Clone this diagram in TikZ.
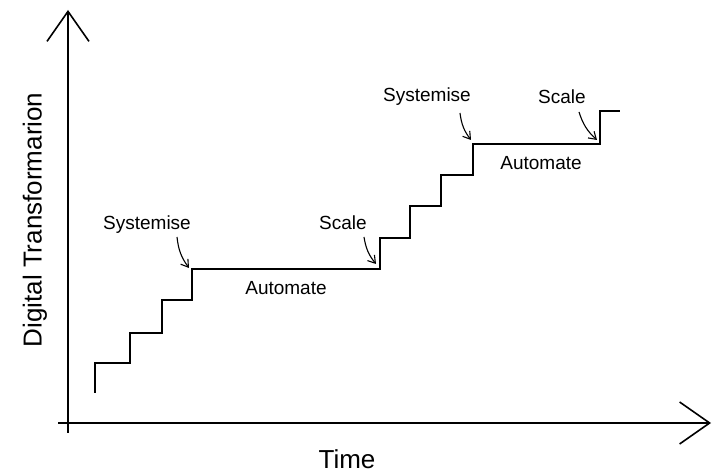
\documentclass[tikz,border=0pt]{standalone}
\usepackage{fontspec}
\setmainfont{Liberation Sans}
\usepackage{tikz}
\usetikzlibrary{arrows.meta}
\tikzset{
x=1pt, y=1pt, % one unit is one pixel of the sketch
axis/.style={line width=1.6pt, -{Straight Barb[length=30pt,width=42pt,line width=1.6pt]}}, % the two axes
stairs/.style={line width=2.8pt, line join=miter, line cap=butt}, % the staircase
tag/.style={font=\fontsize{19}{22}\selectfont, inner sep=1pt}, % labels on the staircase
pointer/.style={line width=1.1pt, -{Straight Barb[length=7pt,width=9pt,line width=1.1pt]}, bend right=15}, % small label arrows
axislabel/.style={font=\fontsize{26}{30}\selectfont, inner sep=0pt}, % axis titles
}
\begin{document}
\begin{tikzpicture}
\useasboundingbox (0,0) rectangle (713,474);
% axes
\coordinate (ybot) at (68,41);
\coordinate (ytop) at (68,464);
\coordinate (xleft) at (58,51);
\coordinate (xright) at (711,51);
\draw[axis] (ybot) -- (ytop);
\draw[axis] (xleft) -- (xright);
\node[axislabel, rotate=90] (ylabel) at (35,254) {Digital Transformarion};
\node[axislabel] (xlabel) at (347,15) {Time};
% staircase
\draw[stairs] (95,81) |- (130,111) |- (162,141) |- (192,174) |- (380,205)
  |- (410,236) |- (441,268) |- (473,299) |- (600,330) |- (620,363);
% labels
\node[tag] (sys1) at (147,249) {Systemise};
\node[tag] (scale1) at (343,251) {Scale};
\node[tag] (sys2) at (427,377) {Systemise};
\node[tag] (scale2) at (562,377) {Scale};
\node[tag] (auto1) at (286,186) {Automate};
\node[tag] (auto2) at (541,311) {Automate};
% arrows from the labels
\coordinate (sys1t) at (177,237);   \coordinate (sys1h) at (189,206);
\coordinate (scale1t) at (364,237); \coordinate (scale1h) at (376,210);
\coordinate (sys2t) at (460,361);   \coordinate (sys2h) at (471,334);
\coordinate (scale2t) at (579,362); \coordinate (scale2h) at (597,334);
\draw[pointer] (sys1t) to (sys1h);
\draw[pointer] (scale1t) to (scale1h);
\draw[pointer] (sys2t) to (sys2h);
\draw[pointer] (scale2t) to (scale2h);
\end{tikzpicture}
\end{document}
